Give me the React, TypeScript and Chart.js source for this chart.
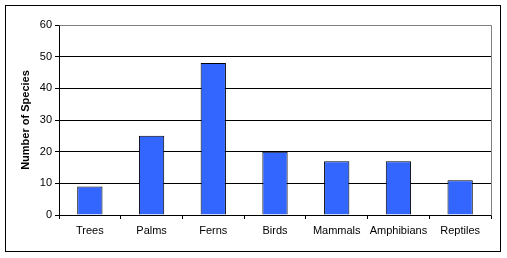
import React, { useEffect, useRef } from "react";
import { Chart, registerables } from "chart.js";

Chart.register(...registerables);

const categories = ["Trees", "Palms", "Ferns", "Birds", "Mammals", "Amphibians", "Reptiles"];
const speciesCounts = [9, 25, 48, 20, 17, 17, 11];
const yTitle = "Number of Species";
const yMin = 0;
const yMax = 60;
const yStep = 10;

const framePlugin = {
  id: "frame",
  beforeDraw(chart: any) {
    const ctx = chart.ctx;
    ctx.save();
    ctx.fillStyle = "#ffffff";
    ctx.fillRect(0, 0, chart.width, chart.height);
    ctx.restore();
  },
  afterDraw(chart: any) {
    const ctx = chart.ctx;
    const a = chart.chartArea;
    ctx.save();
    ctx.lineWidth = 1;
    ctx.strokeStyle = "#808080";
    ctx.beginPath();
    ctx.moveTo(Math.round(a.left) + 0.5, Math.round(a.top) + 0.5);
    ctx.lineTo(Math.round(a.right) + 0.5, Math.round(a.top) + 0.5);
    ctx.lineTo(Math.round(a.right) + 0.5, Math.round(a.bottom) + 0.5);
    ctx.stroke();
    ctx.strokeStyle = "#000000";
    ctx.strokeRect(5.5, 5.5, 495, 246);
    ctx.restore();
  },
};

export default function App() {
  const ref = useRef<HTMLCanvasElement | null>(null);
  useEffect(() => {
    if (!ref.current) return;
    const chart = new Chart(ref.current, {
      type: "bar",
      data: {
        labels: categories,
        datasets: [
          {
            data: speciesCounts,
            backgroundColor: "#3366ff",
            borderColor: "#000000",
            borderWidth: 1,
            barPercentage: 0.41,
            categoryPercentage: 1,
          },
        ],
      },
      options: {
        responsive: false,
        animation: false,
        devicePixelRatio: 1,
        layout: { padding: { top: 25, right: 16, left: 0, bottom: 0 } },
        plugins: { legend: { display: false }, tooltip: { enabled: false } },
        scales: {
          x: {
            offset: true,
            grid: {
              offset: true,
              drawOnChartArea: false,
              drawTicks: true,
              tickLength: 4,
              color: "#000000",
            },
            border: { color: "#000000", width: 1 },
            ticks: {
              color: "#000000",
              padding: 5,
              maxRotation: 0,
              autoSkip: false,
              font: { family: "'Liberation Sans', Arial, sans-serif", size: 11 },
            },
            afterFit(scale: any) {
              scale.height = 258 - 215;
            },
          },
          y: {
            min: yMin,
            max: yMax,
            ticks: {
              stepSize: yStep,
              color: "#000000",
              padding: 3,
              font: { family: "'Liberation Sans', Arial, sans-serif", size: 11 },
            },
            grid: {
              color: "#000000",
              tickLength: 4,
              drawTicks: true,
            },
            border: { color: "#000000", width: 1 },
            title: {
              display: true,
              text: yTitle,
              color: "#000000",
              padding: { top: 19, bottom: 0 },
              font: { family: "'Liberation Sans', Arial, sans-serif", size: 11, weight: "bold" },
            },
            afterFit(scale: any) {
              scale.width = 59;
            },
          },
        },
      },
      plugins: [framePlugin],
    });
    return () => chart.destroy();
  }, []);
  return (
    <div style={{ position: "fixed", left: 0, top: 0, width: 507, height: 258, background: "#fff" }}>
      <canvas ref={ref} width={507} height={258} style={{ display: "block" }} />
    </div>
  );
}
